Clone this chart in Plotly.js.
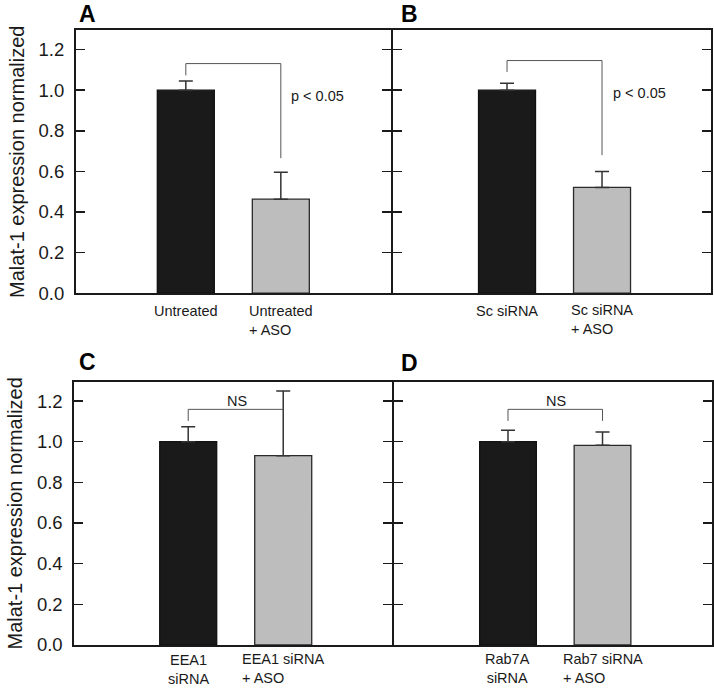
<!DOCTYPE html>
<html><head><meta charset="utf-8">
<script src="https://cdn.plot.ly/plotly-3.0.1.min.js"></script>
<style>html,body{margin:0;padding:0;background:#fff}</style>
</head><body><div id="chart" style="width:714px;height:689px"></div>
<script>
// ---- data ----
const panelLetters = ["A", "B", "C", "D"];
const categoriesA = ["Untreated", "Untreated<br>+ ASO"];
const valuesA = [1.0, 0.463];
const errorsA = [0.045, 0.133];
const categoriesB = ["Sc siRNA", "Sc siRNA<br>+ ASO"];
const valuesB = [1.0, 0.521];
const errorsB = [0.034, 0.079];
const categoriesC = ["EEA1<br>siRNA", "EEA1 siRNA<br>+ ASO"];
const valuesC = [1.0, 0.931];
const errorsC = [0.074, 0.318];
const categoriesD = ["Rab7A<br>siRNA", "Rab7 siRNA<br>+ ASO"];
const valuesD = [1.0, 0.982];
const errorsD = [0.056, 0.066];
// bracket: [left end, top, right end]
const bracketA = [1.073, 1.131, 0.665];
const bracketB = [1.090, 1.146, 0.680];
const bracketC = [1.102, 1.159, 1.159];
const bracketD = [1.102, 1.159, 1.102];
const sigLabels = ["p < 0.05", "p < 0.05", "NS", "NS"];
const sigLabelY = [0.971, 0.986, 1.2, 1.2];
const yTickVals = [0, 0.2, 0.4, 0.6, 0.8, 1.0, 1.2];
const yTitle = "Malat-1 expression normalized";

// ---- layout geometry (pixels) ----
const W = 714, H = 689;
const FONT = 'Arial, "Liberation Sans", sans-serif';
const INK = '#1a1a1a';
const boxes = [
  {l: 76,    r: 391.3, t: 30.3,  b: 293.2, xr: [-1.156, 2.163], lab: [87, 14],  labY: [311, 320]},
  {l: 393.3, r: 711,   t: 30.3,  b: 293.2, xr: [-1.197, 2.147], lab: [409, 14], labY: [311, 319]},
  {l: 74.3,  r: 392,   t: 381.7, b: 645,   xr: [-1.199, 2.145], lab: [87, 362], labY: [669, 668]},
  {l: 394,   r: 711.5, t: 381.7, b: 645,   xr: [-1.206, 2.153], lab: [409, 363], labY: [668, 668]}
];
const cats = [categoriesA, categoriesB, categoriesC, categoriesD];
const vals = [valuesA, valuesB, valuesC, valuesD];
const errs = [errorsA, errorsB, errorsC, errorsD];
const brackets = [bracketA, bracketB, bracketC, bracketD];

const traces = [];
const layout = {
  width: W, height: H, margin: {l: 0, r: 0, t: 0, b: 0},
  paper_bgcolor: '#fff', plot_bgcolor: '#fff', showlegend: false,
  font: {family: FONT, color: INK},
  annotations: [], shapes: []
};

for (let p = 0; p < 4; p++) {
  const bx = boxes[p];
  const xa = p === 0 ? 'x' : 'x' + (p + 1);
  const ya = p === 0 ? 'y' : 'y' + (p + 1);
  const xKey = p === 0 ? 'xaxis' : 'xaxis' + (p + 1);
  const yKey = p === 0 ? 'yaxis' : 'yaxis' + (p + 1);
  traces.push({
    type: 'bar', x: cats[p], y: vals[p], xaxis: xa, yaxis: ya, width: 0.6,
    marker: {color: ['#1a1a1a', '#bdbdbd'], line: {color: ['#111', '#2a2a2a'], width: 1.3}},
    error_y: {type: 'data', symmetric: false, array: errs[p], arrayminus: [0, 0],
              color: '#333', thickness: 1.5, width: 7},
    hoverinfo: 'skip'
  });
  layout[xKey] = {
    domain: [bx.l / W, bx.r / W], anchor: ya, type: 'category',
    categoryorder: 'array', categoryarray: cats[p], range: bx.xr,
    showline: true, mirror: true, linecolor: INK, linewidth: 2,
    ticks: '', showticklabels: false, showgrid: false, zeroline: false, fixedrange: true
  };
  const left = (p % 2 === 0);
  layout[yKey] = {
    domain: [1 - bx.b / H, 1 - bx.t / H], anchor: xa, range: [0, 1.295],
    tickmode: 'array', tickvals: yTickVals, tickformat: '.1f',
    ticks: 'inside', ticklen: 9, tickwidth: 1.5, tickcolor: INK,
    showline: true, mirror: 'ticks', linecolor: INK, linewidth: 2,
    showgrid: false, zeroline: false, fixedrange: true,
    showticklabels: left, ticklabelstandoff: 6,
    tickfont: {family: FONT, size: 18.5, color: INK}
  };
  if (left) {
    layout[yKey].title = {text: yTitle, font: {family: FONT, size: 20, color: INK}, standoff: 9};
  }
  // bracket
  const br = brackets[p];
  const lc = {color: '#555', width: 1};
  layout.shapes.push(
    {type: 'line', xref: xa, yref: ya, x0: 0, x1: 0, y0: br[0], y1: br[1], line: lc},
    {type: 'line', xref: xa, yref: ya, x0: 0, x1: 1, y0: br[1], y1: br[1], line: lc},
    {type: 'line', xref: xa, yref: ya, x0: 1, x1: 1, y0: br[1], y1: br[2], line: lc}
  );
  // significance label
  const isP = p < 2;
  layout.annotations.push({
    xref: xa, yref: ya, x: isP ? 1.39 : 0.51, y: sigLabelY[p],
    text: sigLabels[p], showarrow: false, xanchor: 'center', yanchor: 'middle',
    font: {family: FONT, size: 14.5, color: INK}
  });
  // category labels
  for (let i = 0; i < 2; i++) {
    layout.annotations.push({
      xref: xa, yref: 'paper', x: i, y: 1 - bx.labY[i] / H,
      text: cats[p][i], showarrow: false, xanchor: 'center', yanchor: 'middle',
      align: i === 0 ? 'center' : 'left',
      font: {family: FONT, size: 14.5, color: INK}
    });
  }
  // panel letter
  layout.annotations.push({
    xref: 'paper', yref: 'paper', x: bx.lab[0] / W, y: 1 - bx.lab[1] / H,
    text: '<b>' + panelLetters[p] + '</b>', showarrow: false,
    xanchor: 'center', yanchor: 'middle',
    font: {family: FONT, size: 23, color: '#000'}
  });
}

Plotly.newPlot('chart', traces, layout, {staticPlot: true, displayModeBar: false});
</script>
</body></html>
